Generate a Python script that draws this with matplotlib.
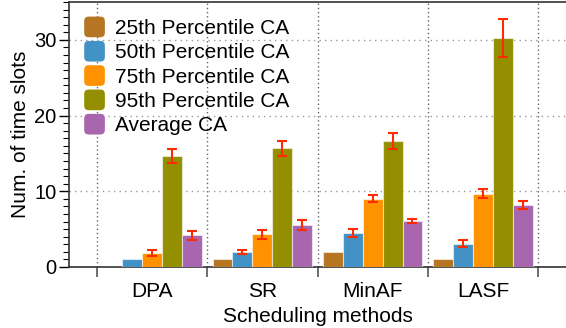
import matplotlib
matplotlib.use("Agg")
import matplotlib.pyplot as plt
import numpy as np
from matplotlib.patches import FancyBboxPatch, Patch
from matplotlib.legend_handler import HandlerPatch
from matplotlib.ticker import MultipleLocator, FixedLocator

plt.rcParams['font.family'] = ['Liberation Sans', 'DejaVu Sans']

methods = ["DPA", "SR", "MinAF", "LASF"]
series = ["25th Percentile CA", "50th Percentile CA", "75th Percentile CA",
          "95th Percentile CA", "Average CA"]
p25 = [0.0, 1.0, 2.0, 1.0]
p25_err = [0, 0, 0, 0]
p50 = [1.0, 2.0, 4.45, 3.1]
p50_err = [0, 0.3, 0.55, 0.5]
p75 = [1.8, 4.3, 9.0, 9.7]
p75_err = [0.4, 0.55, 0.45, 0.65]
p95 = [14.7, 15.7, 16.6, 30.3]
p95_err = [0.9, 1.0, 1.05, 2.5]
avg = [4.2, 5.55, 6.1, 8.15]
avg_err = [0.6, 0.6, 0.3, 0.55]

colors = ["#B57523", "#4292C6", "#FF9200", "#948F00", "#A866AE"]
values = [p25, p50, p75, p95, avg]
errors = [p25_err, p50_err, p75_err, p95_err, avg_err]

fig = plt.figure(figsize=(5.66, 3.28), dpi=100)
ax = fig.add_axes([69/566, (328-267)/328, 1.0 - 69/566, 265/328])

x = np.arange(len(methods))
w = 0.18
for i, (vals, errs, c, lab) in enumerate(zip(values, errors, colors, series)):
    pos = x + (i - 2) * w
    ax.bar(pos, vals, width=w, color=c, edgecolor=(1, 1, 1, 0.55), linewidth=0.8,
           label=lab, zorder=3)
    mask = np.array(errs) > 0
    ax.errorbar(pos[mask], np.array(vals)[mask], yerr=np.array(errs)[mask], fmt='none',
                ecolor="#FF2A00", elinewidth=1.5, capsize=3.5, capthick=1.5, zorder=4)

ax.set_xlim(-0.75, 3.75)
ax.set_ylim(0, 35)
ax.xaxis.set_major_locator(FixedLocator([-0.5, 0.5, 1.5, 2.5, 3.5]))
ax.xaxis.set_minor_locator(FixedLocator(list(x)))
ax.set_xticklabels([], minor=False)
ax.set_xticklabels(methods, minor=True)
ax.tick_params(axis='x', which='minor', length=0, labelsize=15, pad=11)
ax.tick_params(axis='x', which='major', length=7, width=1.2, color="#555555", direction='out')
ax.yaxis.set_major_locator(MultipleLocator(10))
ax.yaxis.set_minor_locator(MultipleLocator(1))
ax.tick_params(axis='y', which='major', length=7, width=1.0, labelsize=14.5, direction='out', pad=2)
ax.tick_params(axis='y', which='minor', length=4, width=0.8, direction='out')
ax.grid(True, which='major', axis='y', linestyle=(0, (1, 3)), color="#999999", linewidth=1.0, zorder=0)
ax.grid(True, which='major', axis='x', linestyle=(0, (1, 2)), color="#666666", linewidth=1.0, zorder=0)
ax.set_axisbelow(True)
for s in ax.spines.values():
    s.set_linewidth(1.2)
    s.set_color("#333333")
ax.spines['right'].set_visible(False)

ax.set_xlabel("Scheduling methods", fontsize=15, labelpad=4)
ax.set_ylabel("Num. of time slots", fontsize=15, labelpad=3)


def make_round(legend, orig_handle, xdescent, ydescent, width, height, fontsize):
    s = min(width, height)
    p = FancyBboxPatch((-xdescent + (width - s) / 2, -ydescent + (height - s) / 2), s, s,
                       boxstyle="round,pad=0,rounding_size=%f" % (s * 0.22),
                       facecolor=orig_handle.get_facecolor(), edgecolor='none')
    return p

handles = [Patch(facecolor=c) for c in colors]
leg = ax.legend(handles, series, loc='upper left', frameon=False, fontsize=15,
                handlelength=1.05, handleheight=1.15, handletextpad=0.45,
                labelspacing=0.14, borderaxespad=0.3,
                handler_map={Patch: HandlerPatch(patch_func=make_round)})

fig.savefig("out.png", dpi=100)
